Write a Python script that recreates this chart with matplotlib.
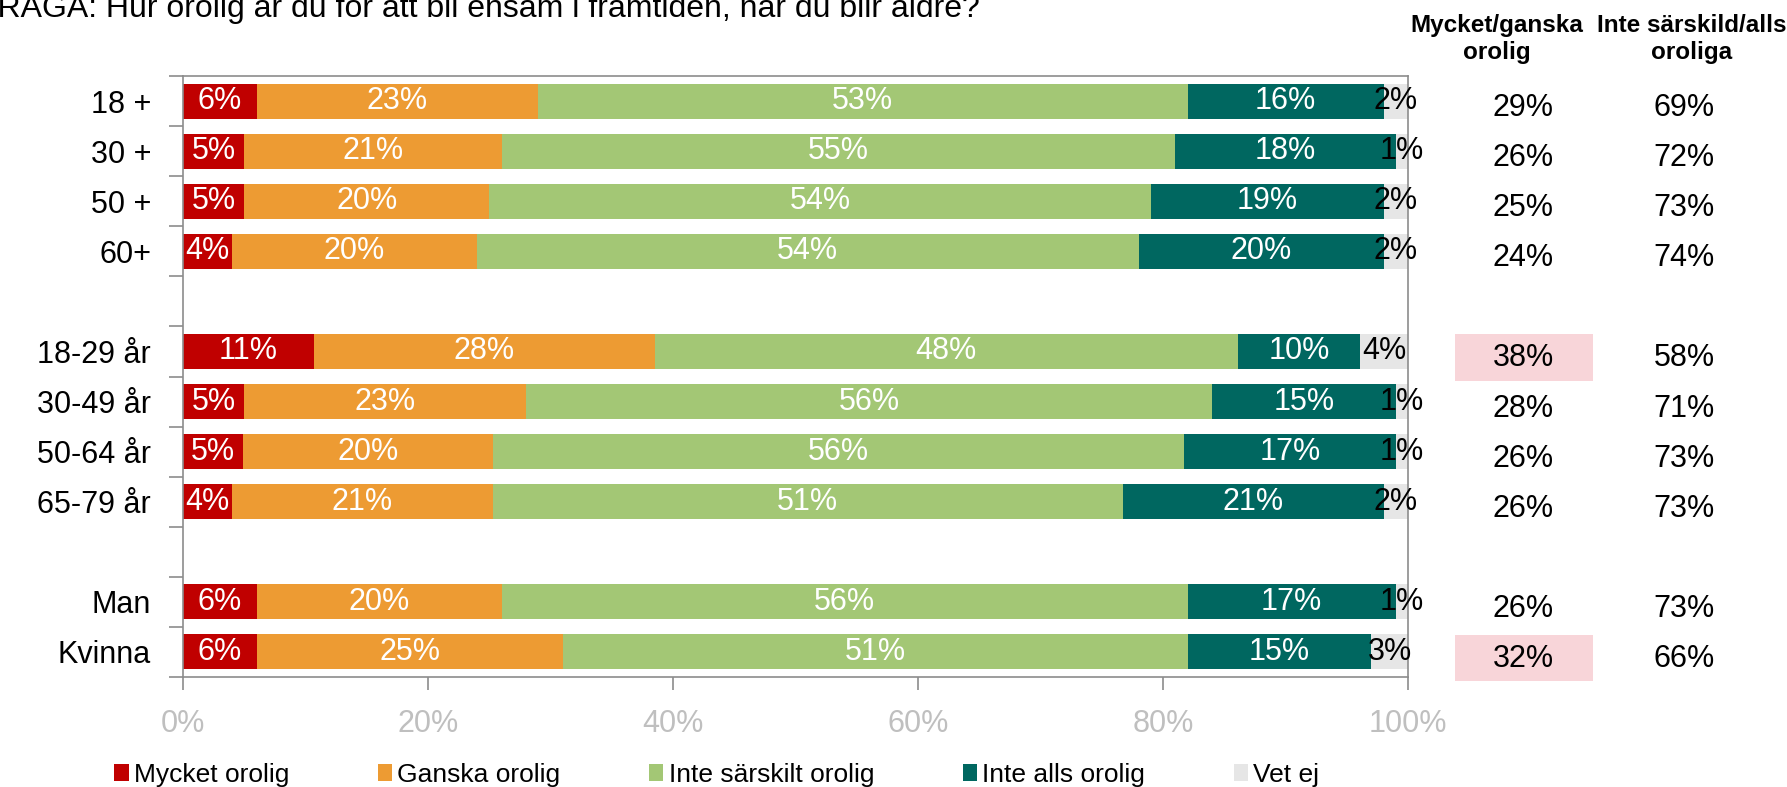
import matplotlib
matplotlib.use("Agg")
import matplotlib.pyplot as plt
from matplotlib.patches import Patch, Rectangle
from matplotlib.transforms import blended_transform_factory

plt.rcParams['font.family'] = ['Liberation Sans', 'DejaVu Sans']

# data
groups = [
    ["18 +", "30 +", "50 +", "60+"],
    ["18-29 år", "30-49 år", "50-64 år", "65-79 år"],
    ["Man", "Kvinna"],
]
series_names = ["Mycket orolig", "Ganska orolig", "Inte särskilt orolig", "Inte alls orolig", "Vet ej"]
mycket = [6, 5, 5, 4, 10.7, 5, 4.9, 4.0, 6, 6]
ganska = [23, 21, 20, 20, 27.8, 23, 20.4, 21.3, 20, 25]
inte_sarskilt = [53, 55, 54, 54, 47.6, 56, 56.4, 51.4, 56, 51]
inte_alls = [16, 18, 19, 20, 10.0, 15, 17.3, 21.3, 17, 15]
vet_ej = [2, 1, 2, 2, 3.9, 1, 1.0, 2.0, 1, 3]
orolig_tot = [29, 26, 25, 24, 38, 28, 26, 26, 26, 32]
inte_orolig_tot = [69, 72, 73, 74, 58, 71, 73, 73, 73, 66]
highlighted = ["18-29 år", "Kvinna"]
col_headers = [("Mycket/ganska", "orolig"), ("Inte särskild/alls", "oroliga")]
title = "FRÅGA: Hur orolig är du för att bli ensam i framtiden, när du blir äldre?"

colors = ["#C00000", "#ED9B33", "#A3C775", "#006760", "#E6E6E6"]
text_colors = ["white", "white", "white", "white", "black"]

# rows with one blank slot between groups
labels, ypos = [], []
slot = 0
for g in groups:
    for name in g:
        labels.append(name)
        ypos.append(slot)
        slot += 1
    slot += 1
n_slots = slot - 1

fig = plt.figure(figsize=(17.87, 7.87), dpi=100)
ax = fig.add_axes([183 / 1787, 1 - 677 / 787, (1408 - 183) / 1787, (677 - 76) / 787])

series = [mycket, ganska, inte_sarskilt, inte_alls, vet_ej]
left = [0.0] * len(labels)
for vals, c, tc in zip(series, colors, text_colors):
    ax.barh(ypos, vals, left=left, height=0.7, color=c, edgecolor='none')
    for y, l, v in zip(ypos, left, vals):
        ax.text(l + v / 2, y, f"{v:.0f}%", ha='center', va='center',
                fontsize=22, color=tc)
    left = [l + v for l, v in zip(left, vals)]

ax.set_xlim(0, 100)
ax.set_ylim(n_slots - 0.5, -0.5)
ax.set_xticks(range(0, 101, 20))
ax.set_xticklabels([f"{t}%" for t in range(0, 101, 20)])
ax.set_yticks([b - 0.5 for b in range(n_slots + 1)])
ax.set_yticklabels([])
ax.set_yticks(ypos, labels, minor=True)
ax.tick_params(axis='y', which='major', direction='out', length=10, width=1.2, color='#8C8C8C')
ax.tick_params(axis='y', which='minor', length=0, pad=23, labelsize=22)
ax.tick_params(axis='x', direction='out', length=9, width=1.2, color='#8C8C8C',
               labelsize=22, labelcolor='#BFBFBF', pad=14)
for s in ax.spines.values():
    s.set_color('#8C8C8C')
    s.set_linewidth(1.2)

# right-hand summary columns
tr = blended_transform_factory(fig.transFigure, ax.transData)
col_x = [1523 / 1787, 1684 / 1787]
for y, name, a, b in zip(ypos, labels, orolig_tot, inte_orolig_tot):
    if name in highlighted:
        ax.add_patch(Rectangle((1455 / 1787, y - 0.34), 138 / 1787, 0.92, transform=tr,
                               facecolor='#F8D5D9', edgecolor='none', clip_on=False))
    ax.text(col_x[0], y + 0.14, f"{a}%", transform=tr, ha='center', va='center', fontsize=22)
    ax.text(col_x[1], y + 0.14, f"{b}%", transform=tr, ha='center', va='center', fontsize=22)

head_x = [1497 / 1787, 1692 / 1787]
for hx, (l1, l2) in zip(head_x, col_headers):
    fig.text(hx, 1 - 32 / 787, l1, ha='center', va='baseline', fontsize=17.5, fontweight='bold')
    fig.text(hx, 1 - 59 / 787, l2, ha='center', va='baseline', fontsize=17.5, fontweight='bold')

# question text, partly cut at the top-left edge like the source
fig.text(-0.0125, 1 - 17 / 787, title, ha='left', va='baseline', fontsize=23)

handles = [Patch(facecolor=c, edgecolor='none') for c in colors]
fig.legend(handles, series_names, loc='center left', bbox_to_anchor=(114 / 1787, 1 - 775 / 787),
           ncol=5, frameon=False, fontsize=19, handlelength=0.55, handleheight=0.6,
           handletextpad=0.2, columnspacing=3.35, borderpad=0, borderaxespad=0)

fig.savefig("out.png", dpi=100)
